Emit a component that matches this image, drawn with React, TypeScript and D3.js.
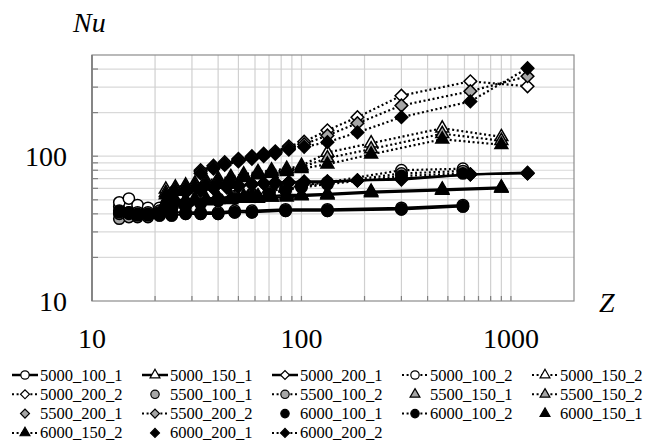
// Nu versus Z, log-log, 18 runs (Re_width_mode)
import React from 'react';
import * as d3 from 'd3';

const zCircle1 = [13.5, 15, 16.5, 18.5, 21, 24, 28, 33, 40, 48, 58, 84, 133, 300, 590];
const zCircle2 = [13.5, 15, 16.5, 18.5, 21, 24, 28, 33, 40, 48, 58, 70, 84, 100, 133, 300, 590];
const zTriangle = [22.5, 25, 28, 31, 35, 40, 46, 53, 62, 72, 85, 100, 133, 215, 470, 900];
const zDiamond1 = [24, 28, 33, 38, 44, 50, 58, 66, 75, 87, 103, 133, 185, 300, 640, 1200];
const zDiamond2 = [33, 38, 43, 50, 58, 66, 75, 87, 103, 133, 185, 300, 640, 1200];

const nu5000_100_1 = [45, 47, 43, 42, 41, 41, 41, 41, 41, 42, 42, 43, 43, 44, 46];
const nu5000_150_1 = [49, 50, 50, 51, 51, 52, 52, 53, 53, 53, 54, 54, 55, 57, 59, 61];
const nu5000_200_1 = [56, 58, 60, 61, 62, 63, 64, 65, 66, 66, 67, 67, 68, 70, 75, 77];
const nu5000_100_2 = [48, 51, 46, 44, 44, 45, 47, 49, 51, 53, 55, 57, 60, 63, 66, 80, 82];
const nu5000_150_2 = [59, 61, 63, 65, 68, 70, 72, 75, 78, 80, 82, 86, 106, 123, 156, 136];
const nu5000_200_2 = [80, 86, 91, 96, 100, 104, 108, 117, 126, 151, 186, 262, 329, 304];
const nu5500_100_1 = [37, 38, 38, 38, 39, 39, 40, 40, 40, 41, 41, 42, 42, 43, 45];
const nu5500_100_2 = [40, 41, 41, 41, 42, 44, 46, 48, 50, 52, 54, 56, 59, 62, 65, 76, 79];
const nu5500_150_1 = [48, 49, 49, 50, 50, 51, 51, 52, 52, 52, 53, 54, 54, 56, 58, 60];
const nu5500_150_2 = [56, 59, 61, 63, 66, 68, 70, 73, 76, 78, 80, 84, 97, 112, 143, 128];
const nu5500_200_1 = [55, 57, 59, 60, 61, 62, 64, 65, 65, 66, 66, 67, 68, 70, 75, 76];
const nu5500_200_2 = [78, 84, 89, 94, 98, 102, 106, 114, 121, 139, 169, 224, 281, 357];
const nu6000_100_1 = [41, 40, 39, 39, 39, 39, 40, 40, 40, 41, 41, 42, 42, 43, 45];
const nu6000_100_2 = [42, 41, 40, 40, 41, 43, 45, 47, 49, 51, 53, 55, 58, 61, 64, 73, 76];
const nu6000_150_1 = [47, 48, 48, 49, 49, 50, 50, 51, 51, 52, 52, 53, 54, 56, 58, 60];
const nu6000_150_2 = [54, 57, 59, 61, 64, 66, 68, 71, 74, 76, 78, 82, 88, 103, 131, 120];
const nu6000_200_1 = [54, 56, 58, 60, 61, 62, 64, 65, 65, 66, 66, 66, 68, 69, 75, 76];
const nu6000_200_2 = [76, 82, 87, 92, 96, 100, 104, 111, 116, 125, 146, 186, 239, 405];

const xTickLabels = [10, 100, 1000];
const yTickLabels = [10, 100];

const fills: Record<string, string> = { '5000': '#ffffff', '5500': '#a6a6a6', '6000': '#000000' };

const series = [
  { name: '5000_100_1', z: zCircle1, nu: nu5000_100_1, shape: 'circle', line: 'solid', legendLine: true },
  { name: '5000_150_1', z: zTriangle, nu: nu5000_150_1, shape: 'triangle', line: 'solid', legendLine: true },
  { name: '5000_200_1', z: zDiamond1, nu: nu5000_200_1, shape: 'diamond', line: 'solid', legendLine: true },
  { name: '5000_100_2', z: zCircle2, nu: nu5000_100_2, shape: 'circle', line: 'dot', legendLine: true },
  { name: '5000_150_2', z: zTriangle, nu: nu5000_150_2, shape: 'triangle', line: 'dot', legendLine: true },
  { name: '5000_200_2', z: zDiamond2, nu: nu5000_200_2, shape: 'diamond', line: 'dot', legendLine: true },
  { name: '5500_100_1', z: zCircle1, nu: nu5500_100_1, shape: 'circle', line: 'none', legendLine: false },
  { name: '5500_100_2', z: zCircle2, nu: nu5500_100_2, shape: 'circle', line: 'dot', legendLine: true },
  { name: '5500_150_1', z: zTriangle, nu: nu5500_150_1, shape: 'triangle', line: 'none', legendLine: false },
  { name: '5500_150_2', z: zTriangle, nu: nu5500_150_2, shape: 'triangle', line: 'dot', legendLine: true },
  { name: '5500_200_1', z: zDiamond1, nu: nu5500_200_1, shape: 'diamond', line: 'none', legendLine: false },
  { name: '5500_200_2', z: zDiamond2, nu: nu5500_200_2, shape: 'diamond', line: 'dot', legendLine: true },
  { name: '6000_100_1', z: zCircle1, nu: nu6000_100_1, shape: 'circle', line: 'solid', legendLine: false },
  { name: '6000_100_2', z: zCircle2, nu: nu6000_100_2, shape: 'circle', line: 'dot', legendLine: true },
  { name: '6000_150_1', z: zTriangle, nu: nu6000_150_1, shape: 'triangle', line: 'solid', legendLine: false },
  { name: '6000_150_2', z: zTriangle, nu: nu6000_150_2, shape: 'triangle', line: 'dot', legendLine: true },
  { name: '6000_200_1', z: zDiamond1, nu: nu6000_200_1, shape: 'diamond', line: 'solid', legendLine: false },
  { name: '6000_200_2', z: zDiamond2, nu: nu6000_200_2, shape: 'diamond', line: 'dot', legendLine: true },
];

const FONT = 'Liberation Serif';

function symbolPath(shape: string, big: boolean) {
  if (shape === 'circle') return d3.symbol().type(d3.symbolCircle).size(big ? 100 : 55)();
  if (shape === 'triangle') return d3.symbol().type(d3.symbolTriangle).size(big ? 72 : 42)();
  return d3.symbol().type(d3.symbolSquare).size(big ? 80 : 40)();
}

function Marker({ shape, cx, cy, fill, big }: any) {
  return (
    <path
      d={symbolPath(shape, big) || ''}
      transform={`translate(${cx},${cy})${shape === 'diamond' ? ' rotate(45)' : ''}`}
      fill={fill}
      stroke="#000"
      strokeWidth={big ? 1.5 : 1.2}
    />
  );
}

export default function App() {
  const left = 92, right = 574, top = 55, bottom = 301;
  const x = d3.scaleLog().domain([10, 2000]).range([left, right]);
  const y = d3.scaleLog().domain([10, 500]).range([bottom, top]);
  const xGrid = x.ticks().filter(v => v > 10 && v < 2000);
  const yGrid = y.ticks().filter(v => v > 10 && v < 500);
  const line = d3.line<[number, number]>().x(d => x(d[0])).y(d => y(d[1]));

  return (
    <svg width={651} height={445} fontFamily={FONT} style={{ position: 'absolute', left: 0, top: 0, fontFamily: `"${FONT}"` }}>
      <rect width={651} height={445} fill="#fff" />
      {yGrid.map(v => (
        <line key={'gy' + v} x1={left} x2={right} y1={y(v)} y2={y(v)} stroke="#d9d9d9" strokeWidth={1.2} />
      ))}
      {xGrid.map(v => (
        <line key={'gx' + v} x1={x(v)} x2={x(v)} y1={top} y2={bottom} stroke="#d0d0d0" strokeWidth={1.2} />
      ))}
      {yGrid.map(v => (
        <line key={'ty' + v} x1={left} x2={left + 6} y1={y(v)} y2={y(v)} stroke="#808080" strokeWidth={1.2} />
      ))}
      {xGrid.map(v => (
        <line key={'tx' + v} x1={x(v)} x2={x(v)} y1={bottom} y2={bottom - 5} stroke="#808080" strokeWidth={1.2} />
      ))}
      <rect x={left} y={top} width={right - left} height={bottom - top} fill="none" stroke="#8c8c8c" strokeWidth={1.2} />
      <line x1={left} x2={left} y1={top} y2={bottom} stroke="#808080" strokeWidth={1.8} />

      {series.filter(s => s.line !== 'none').map(s => (
        <path
          key={'l' + s.name}
          d={line(s.z.map((z, i) => [z, s.nu[i]] as [number, number])) || ''}
          fill="none"
          stroke="#000"
          strokeWidth={2.2}
          strokeDasharray={s.line === 'dot' ? '2 2.6' : undefined}
        />
      ))}
      {series.map(s => (
        <g key={'m' + s.name}>
          {s.z.map((z, i) => (
            <Marker key={i} shape={s.shape} cx={x(z)} cy={y(s.nu[i])} fill={fills[s.name.slice(0, 4)]} big />
          ))}
        </g>
      ))}

      {xTickLabels.map(v => (
        <text key={'xl' + v} x={x(v)} y={348} textAnchor="middle" style={{ fontFamily: `"${FONT}"`, fontSize: 28 }}>{v}</text>
      ))}
      {yTickLabels.map(v => (
        <text key={'yl' + v} x={67} y={y(v) + 10} textAnchor="end" style={{ fontFamily: `"${FONT}"`, fontSize: 28 }}>{v}</text>
      ))}
      <text x={73} y={32} style={{ fontFamily: `"${FONT}"`, fontSize: 28, fontStyle: 'italic' }}>Nu</text>
      <text x={599} y={312} style={{ fontFamily: `"${FONT}"`, fontSize: 28, fontStyle: 'italic' }}>Z</text>

      {series.map((s, i) => {
        const sx = 12 + (i % 5) * 130;
        const cy = 375 + Math.floor(i / 5) * 19.3;
        return (
          <g key={'lg' + s.name}>
            {s.legendLine && (
              <line x1={sx} x2={sx + 26} y1={cy} y2={cy} stroke="#000"
                strokeWidth={s.line === 'solid' ? 2.5 : 2}
                strokeDasharray={s.line === 'dot' ? '2 2.6' : undefined} />
            )}
            <Marker shape={s.shape} cx={sx + 13} cy={cy} fill={fills[s.name.slice(0, 4)]} big={false} />
            <text x={sx + 28} y={cy + 5.5} style={{ fontFamily: `"${FONT}"`, fontSize: 16.5 }}>{s.name}</text>
          </g>
        );
      })}
    </svg>
  );
}
